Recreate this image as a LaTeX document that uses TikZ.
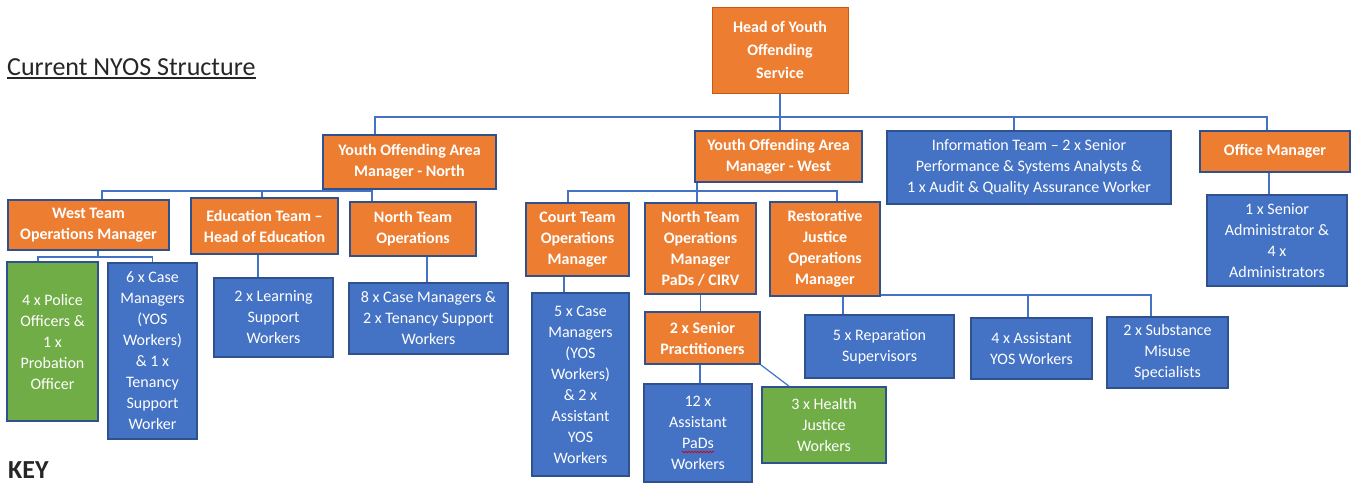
\documentclass[tikz,border=0pt]{standalone}
\usepackage{fontspec}
\setmainfont{Carlito}
\usetikzlibrary{decorations.pathmorphing}
\definecolor{orng}{HTML}{ED7D31}
\definecolor{orngd}{HTML}{C55A11}
\definecolor{blu}{HTML}{4472C4}
\definecolor{blud}{HTML}{2F528F}
\definecolor{grn}{HTML}{70AD47}
\definecolor{txt}{HTML}{262626}
\tikzset{
  orgbox/.style={draw=blud,line width=1.6pt,text=white,align=center,inner sep=0pt,font=\fontsize{16}{21}\selectfont},
  mgr/.style={orgbox,fill=orng,font=\fontsize{16}{21}\selectfont\bfseries},
  team/.style={orgbox,fill=blu},
  ext/.style={orgbox,fill=grn},
  sz/.style 2 args={minimum width=#1,minimum height=#2},
  link/.style={blu,line width=1.6pt},
  hdg/.style={anchor=base west,inner sep=0pt,text=txt,font=\fontsize{26}{30}\selectfont},
}

\begin{document}
\begin{tikzpicture}[x=1pt,y=-1pt]
  \useasboundingbox (0,0) rectangle (1357,482);

  \node[hdg] (title) at (7,75) {Current NYOS Structure};
  \draw[txt,line width=1.5pt] ([yshift=-3pt]title.base west) -- ([yshift=-3pt]title.base east);
  \node[hdg,font=\fontsize{26}{30}\selectfont\bfseries] (key) at (8,478) {KEY};

  % top level
  \node[mgr,sz={136}{86},draw=orngd,line width=1pt,font=\fontsize{16}{23}\selectfont\bfseries] (head) at (780,50) {Head of Youth\\Offending\\Service};
  \node[mgr,sz={173}{54}] (yoamN) at (409.5,162) {Youth Offending Area\\Manager - North};
  \node[mgr,sz={167}{51}] (yoamW) at (778.5,156.5) {Youth Offending Area\\Manager - West};
  \node[team,sz={284}{73}] (info) at (1029,167.5) {Information Team -- 2 x Senior\\Performance \& Systems Analysts \&\\1 x Audit \& Quality Assurance Worker};
  \node[mgr,sz={150}{41}] (office) at (1275,151.5) {Office Manager};
  \node[team,sz={140}{91}] (admin) at (1277,240.5) {1 x Senior\\Administrator \&\\4 x\\Administrators};

  % north
  \node[mgr,sz={161}{50}] (westops) at (88.5,225) {West Team\\Operations Manager};
  \node[mgr,sz={147}{56}] (edu) at (264.5,226) {Education Team --\\Head of Education};
  \node[mgr,sz={126}{54}] (northops) at (413,229) {North Team\\Operations};
  \node[ext,sz={91}{159}] (police) at (52.5,341.5) {4 x Police\\Officers \&\\1 x\\Probation\\Officer};
  \node[team,sz={89}{176}] (caseW) at (152.5,351) {6 x Case\\Managers\\(YOS\\Workers)\\\& 1 x\\Tenancy\\Support\\Worker};
  \node[team,sz={119}{79}] (learn) at (273.5,317.5) {2 x Learning\\Support\\Workers};
  \node[team,sz={159}{71}] (caseN) at (428.5,318.5) {8 x Case Managers \&\\2 x Tenancy Support\\Workers};

  % west
  \node[mgr,sz={103}{73}] (court) at (577.5,239.5) {Court Team\\Operations\\Manager};
  \node[mgr,sz={111}{91}] (pads) at (700.5,248.5) {North Team\\Operations\\Manager\\PaDs / CIRV};
  \node[mgr,sz={110}{94}] (rj) at (825,249) {Restorative\\Justice\\Operations\\Manager};
  \node[team,sz={97}{183}] (caseC) at (580.5,384.5) {5 x Case\\Managers\\(YOS\\Workers)\\\& 2 x\\Assistant\\YOS\\Workers};
  \node[mgr,sz={115}{52}] (senior) at (702.5,338) {2 x Senior\\Practitioners};
  \node[team,sz={108}{98}] (asst) at (698,433) {12 x\\Assistant\\PaDs\\Workers};
  \node[ext,sz={124}{76}] (health) at (824,425) {3 x Health\\Justice\\Workers};
  \node[team,sz={149}{63}] (repar) at (879.5,346.5) {5 x Reparation\\Supervisors};
  \node[team,sz={121}{61}] (ayos) at (1031.5,348.5) {4 x Assistant\\YOS Workers};
  \node[team,sz={121}{71}] (subst) at (1167.5,352.5) {2 x Substance\\Misuse\\Specialists};

  \draw[red!85!black,line width=0.7pt,decorate,decoration={snake,amplitude=0.7pt,segment length=3pt}] (682,452) -- (714,452);

  \coordinate (busTop) at (0,117);
  \coordinate (busN) at (0,191);
  \coordinate (busWT) at (0,257);
  \coordinate (busRJ) at (0,295);

  \draw[link] (head) -- (head |- yoamW.north);
  \draw[link] ([xshift=-34.5pt]yoamN.north) |- ([xshift=-8pt]office.north |- busTop) -- ([xshift=-8pt]office.north);
  \draw[link] ([xshift=-15pt]info.north) -- ([xshift=-15pt]info.north |- busTop);
  \draw[link] ([xshift=-6pt]office.south) -- ([xshift=-6pt]office.south |- admin.north);

  \draw[link] ([xshift=-38.5pt]yoamN.south) -- ([xshift=-38.5pt]yoamN.south |- busN);
  \draw[link] ([xshift=13.5pt]westops.north) |- ([xshift=-41pt]northops.north |- busN) -- ([xshift=-41pt]northops.north);
  \draw[link] ([xshift=-2.5pt]edu.north) -- ([xshift=-2.5pt]edu.north |- busN);
  \draw[link] ([xshift=9.5pt]westops.south) -- ([xshift=9.5pt]westops.south |- busWT);
  \draw[link] ([xshift=-14.5pt]police.north) |- (caseW.north |- busWT) -- (caseW.north);
  \draw[link] ([xshift=-6.5pt]edu.south) -- ([xshift=-6.5pt]edu.south |- learn.north);
  \draw[link] ([xshift=14pt]northops.south) -- ([xshift=14pt]northops.south |- caseN.north);

  \draw[link] ([xshift=-81.5pt]yoamW.south) -- ([xshift=-81.5pt]yoamW.south |- busN);
  \draw[link] ([xshift=-9.5pt]court.north) |- ([xshift=12pt]rj.north |- busN) -- ([xshift=12pt]rj.north);
  \draw[link] ([xshift=-3.5pt]pads.north) -- ([xshift=-3.5pt]pads.north |- busN);
  \draw[link] ([xshift=-13.5pt]court.south) -- ([xshift=-13.5pt]court.south |- caseC.north);
  \draw[link] (pads) -- (pads |- senior.north);
  \draw[link] ([xshift=-2.5pt]senior.south) -- ([xshift=-2.5pt]senior.south |- asst.north);
  \draw[link,line width=1.2pt] (senior.south east) -- ([xshift=-35pt]health.north);
  \draw[link] ([xshift=18pt]rj.south) -- ([xshift=18pt]rj.south |- repar.north);
  \draw[link] (rj.east |- busRJ) -| ([xshift=-16.5pt]subst.north);
  \draw[link] ([xshift=-3.5pt]ayos.north) -- ([xshift=-3.5pt]ayos.north |- busRJ);
\end{tikzpicture}
\end{document}
